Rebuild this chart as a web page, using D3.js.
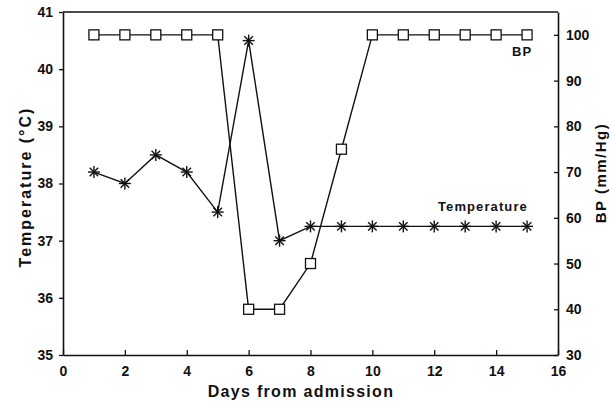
<html>
<head>
<script src="https://d3js.org/d3.v7.min.js"></script>
<style>
  body { margin: 0; background: #fff; }
  text { font-family: "Liberation Sans", Arial, sans-serif; font-weight: bold; fill: #111; }
</style>
</head>
<body>
<script>
// days from admission
var days = [1, 2, 3, 4, 5, 6, 7, 8, 9, 10, 11, 12, 13, 14, 15];
// temperature, deg C
var temperature = [38.2, 38.0, 38.5, 38.2, 37.5, 40.5, 37.0, 37.25, 37.25, 37.25, 37.25, 37.25, 37.25, 37.25, 37.25];
// blood pressure, mm/Hg
var bp = [100, 100, 100, 100, 100, 40, 40, 50, 75, 100, 100, 100, 100, 100, 100];

var xTicks = [0, 2, 4, 6, 8, 10, 12, 14, 16];
var tempTicks = [35, 36, 37, 38, 39, 40, 41];
var bpTicks = [30, 40, 50, 60, 70, 80, 90, 100];

var W = 615, H = 404;
// plot edges (window.top is read-only, so don't call it "top")
var padL = 63, padR = 558, padT = 12, padB = 355;

var svg = d3.select("body").append("svg")
  .attr("width", W)
  .attr("height", H);

var x = d3.scaleLinear().domain([0, 16]).range([padL, padR]);
var yT = d3.scaleLinear().domain([35, 41]).range([padB, padT]);
var yB = d3.scaleLinear().domain([30, 105]).range([padB, padT]);

var xAxis = d3.axisBottom(x).tickValues(xTicks).tickFormat(d3.format("d"))
  .tickSizeInner(-5).tickSizeOuter(0).tickPadding(11);
var yAxisL = d3.axisLeft(yT).tickValues(tempTicks).tickFormat(d3.format("d"))
  .tickSizeInner(4).tickSizeOuter(0).tickPadding(6);
var yAxisR = d3.axisRight(yB).tickValues(bpTicks).tickFormat(d3.format("d"))
  .tickSizeInner(-4).tickSizeOuter(0).tickPadding(8);

function styleAxis(g) {
  g.select(".domain").attr("stroke", "#111").attr("stroke-width", 1.6);
  g.selectAll(".tick line").attr("stroke", "#111").attr("stroke-width", 1.3);
  g.selectAll(".tick text")
    .attr("font-size", 14)
    .attr("font-family", "Liberation Sans, Arial, sans-serif")
    .attr("font-weight", "bold")
    .attr("fill", "#111");
}

svg.append("g").attr("transform", "translate(0," + padB + ")").call(xAxis).call(styleAxis);
svg.append("g").attr("transform", "translate(" + padL + ",0)").call(yAxisL).call(styleAxis);
svg.append("g").attr("transform", "translate(" + padR + ",0)").call(yAxisR).call(styleAxis);

// top frame line
svg.append("line")
  .attr("x1", padL).attr("x2", padR)
  .attr("y1", padT).attr("y2", padT)
  .attr("stroke", "#111").attr("stroke-width", 1.6);

// lines
var tempLine = d3.line().x(function(d, i) { return x(days[i]); }).y(function(d) { return yT(d); });
var bpLine = d3.line().x(function(d, i) { return x(days[i]); }).y(function(d) { return yB(d); });

svg.append("path").datum(bp).attr("d", bpLine)
  .attr("fill", "none").attr("stroke", "#111").attr("stroke-width", 1.4);
svg.append("path").datum(temperature).attr("d", tempLine)
  .attr("fill", "none").attr("stroke", "#111").attr("stroke-width", 1.4);

// square markers for BP
svg.selectAll(".sq")
  .data(bp)
  .enter().append("rect")
  .attr("class", "sq")
  .attr("x", function(d, i) { return x(days[i]) - 5; })
  .attr("y", function(d) { return yB(d) - 5; })
  .attr("width", 10).attr("height", 10)
  .attr("fill", "#fff").attr("stroke", "#111").attr("stroke-width", 1.3);

// asterisk markers for temperature
var star = svg.selectAll(".star")
  .data(temperature)
  .enter().append("g")
  .attr("class", "star")
  .attr("transform", function(d, i) { return "translate(" + x(days[i]) + "," + yT(d) + ")"; });
[0, 45, 90, 135].forEach(function(a) {
  star.append("line")
    .attr("x1", -6).attr("x2", 6).attr("y1", 0).attr("y2", 0)
    .attr("transform", "rotate(" + a + ")")
    .attr("stroke", "#111").attr("stroke-width", 1.4);
});

// series labels
svg.append("text").attr("x", 512).attr("y", 56)
  .attr("font-size", 13).attr("letter-spacing", 1).text("BP");
svg.append("text").attr("x", 438).attr("y", 211)
  .attr("font-size", 13).attr("letter-spacing", 1.1).text("Temperature");

// axis titles
svg.append("text")
  .attr("transform", "translate(31,187) rotate(-90)")
  .attr("text-anchor", "middle").attr("font-size", 16)
  .attr("letter-spacing", 2)
  .text("Temperature (°C)");
svg.append("text")
  .attr("transform", "translate(606,173) rotate(-90)")
  .attr("text-anchor", "middle").attr("font-size", 15)
  .attr("letter-spacing", 1.5)
  .text("BP (mm/Hg)");
svg.append("text")
  .attr("x", 301).attr("y", 397)
  .attr("text-anchor", "middle").attr("font-size", 16)
  .attr("letter-spacing", 1.3)
  .text("Days from admission");
</script>
</body>
</html>
